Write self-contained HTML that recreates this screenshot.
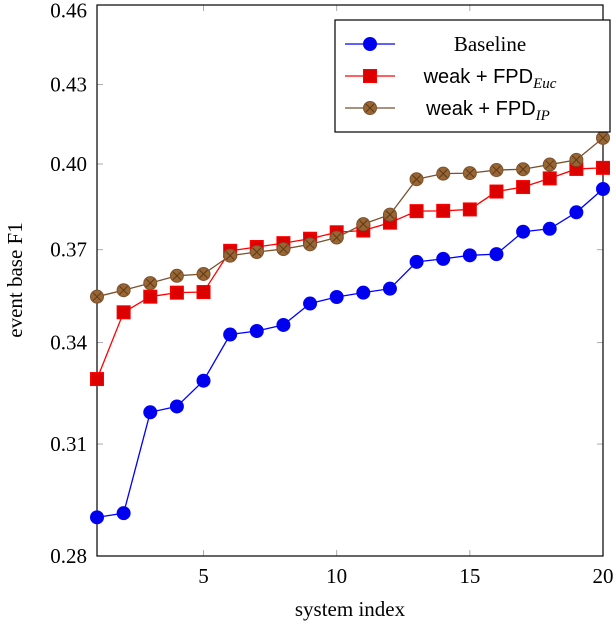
<!DOCTYPE html>
<html><head><meta charset="utf-8"><style>
body{margin:0;background:#fff}
svg{display:block;font-family:"Liberation Serif",serif}
</style></head><body>
<svg id="chart" width="616" height="628"></svg>
<script>
const xs=[1,2,3,4,5,6,7,8,9,10,11,12,13,14,15,16,17,18,19,20];
const baseline=[0.2900,0.2911,0.3191,0.3208,0.3284,0.3425,0.3436,0.3455,0.3523,0.3544,0.3558,0.3571,0.3659,0.3669,0.3681,0.3685,0.3761,0.3771,0.3828,0.3910];
const fpdEuc=[0.3289,0.3495,0.3545,0.3558,0.3560,0.3696,0.3709,0.3722,0.3737,0.3759,0.3765,0.3792,0.3832,0.3833,0.3838,0.3901,0.3917,0.3948,0.3982,0.3986];
const fpdIP=[0.3545,0.3566,0.3589,0.3613,0.3619,0.3680,0.3692,0.3702,0.3718,0.3741,0.3787,0.3820,0.3945,0.3965,0.3967,0.3978,0.3981,0.3998,0.4015,0.4096];
const yTicks=[0.28,0.31,0.34,0.37,0.40,0.43,0.46];
const xTicks=[5,10,15,20];
const NS="http://www.w3.org/2000/svg";
const svg=document.getElementById('chart');
const L=97,R=603,T=5,B=556;
function sx(v){return L+(v-1)*(R-L)/19;}
function sy(v){return 164-(Math.log10(v)-Math.log10(0.4))*2530;}
function mk(tag,attrs,parent){const e=document.createElementNS(NS,tag);for(const k in attrs)e.setAttribute(k,attrs[k]);(parent||svg).appendChild(e);return e;}
yTicks.forEach(v=>{
 const g=mk('g',{});
 
 
 const y=sy(v);
 if(v>0.28&&v<0.46){mk('line',{x1:L,x2:L+6,y1:y,y2:y,stroke:'#aaa'},g);mk('line',{x1:R-6,x2:R,y1:y,y2:y,stroke:'#aaa'},g);}
 const t=mk('text',{x:L-10,y:y+7,'text-anchor':'end','font-size':'21'},g);t.textContent=v.toFixed(2);
});
xTicks.forEach(v=>{
 const g=mk('g',{});
 
 
 const x=sx(v);
 mk('line',{x1:x,x2:x,y1:B,y2:B-6,stroke:'#aaa'},g);mk('line',{x1:x,x2:x,y1:T,y2:T+6,stroke:'#aaa'},g);
 const t=mk('text',{x:x,y:B+27,'text-anchor':'middle','font-size':'21'},g);t.textContent=v;
});
const frame=mk('rect',{x:L,y:T,width:R-L,height:B-T,fill:'none',stroke:'#000','stroke-width':1.2});


function series(vals,color,name,marker,fill){
 const g=mk('g',{});
 
 
 mk('polyline',{points:vals.map((v,i)=>sx(xs[i])+','+sy(v)).join(' '),fill:'none',stroke:color,'stroke-width':1.3},g);
 vals.forEach((v,i)=>{
  const x=sx(xs[i]),y=sy(v);let p;
  if(marker==='sq')p=mk('rect',{x:x-6.5,y:y-6.5,width:13,height:13,fill:fill,stroke:color},g);
  else{p=mk('circle',{cx:x,cy:y,r:6.5,fill:fill,stroke:color},g);
   if(marker==='ox'){mk('line',{x1:x-4,y1:y-4,x2:x+4,y2:y+4,stroke:'#5a3a1a'},g);mk('line',{x1:x-4,y1:y+4,x2:x+4,y2:y-4,stroke:'#5a3a1a'},g);}}
  
  
 });
}
series(baseline,'#0000ff','baseline-series','c','#0000ee');
series(fpdEuc,'#ff0000','fpd-euc-series','sq','#dd0000');
series(fpdIP,'#7a5230','fpd-ip-series','ox','#996633');
</script>
<svg style="position:absolute;left:0;top:0" width="616" height="628">
<text x="0" y="0" transform="translate(22,280) rotate(-90)" text-anchor="middle" font-size="21" font-family="Liberation Serif,serif">event base F1</text>
<text x="350" y="616" text-anchor="middle" font-size="21" font-family="Liberation Serif,serif">system index</text>
<g font-family="Liberation Serif,serif" font-size="21">
<rect x="335" y="20" width="275" height="112" fill="#fff" stroke="#000" stroke-width="1.2"/>
<g>
<line x1="345" x2="395" y1="44" y2="44" stroke="#0000ff" stroke-width="1.3"/><circle cx="370" cy="44" r="6.5" fill="#0000ee" stroke="#0000ff"/>
<text x="490" y="51" text-anchor="middle">Baseline</text></g>
<g>
<line x1="345" x2="395" y1="76" y2="76" stroke="#ff0000" stroke-width="1.3"/><rect x="363.5" y="69.5" width="13" height="13" fill="#dd0000" stroke="#ff0000"/>
<text x="490" y="83" text-anchor="middle"><tspan font-family="Liberation Sans,sans-serif" font-size="20">weak + FPD</tspan><tspan font-style="italic" font-size="15" dy="5">Euc</tspan></text></g>
<g>
<line x1="345" x2="395" y1="108" y2="108" stroke="#7a5230" stroke-width="1.3"/><circle cx="370" cy="108" r="6.5" fill="#996633" stroke="#7a5230"/>
<line x1="366" y1="104" x2="374" y2="112" stroke="#5a3a1a"/><line x1="366" y1="112" x2="374" y2="104" stroke="#5a3a1a"/>
<text x="488" y="115" text-anchor="middle"><tspan font-family="Liberation Sans,sans-serif" font-size="20">weak + FPD</tspan><tspan font-style="italic" font-size="15" dy="5">IP</tspan></text></g>
</g>
</svg>
</body></html>
